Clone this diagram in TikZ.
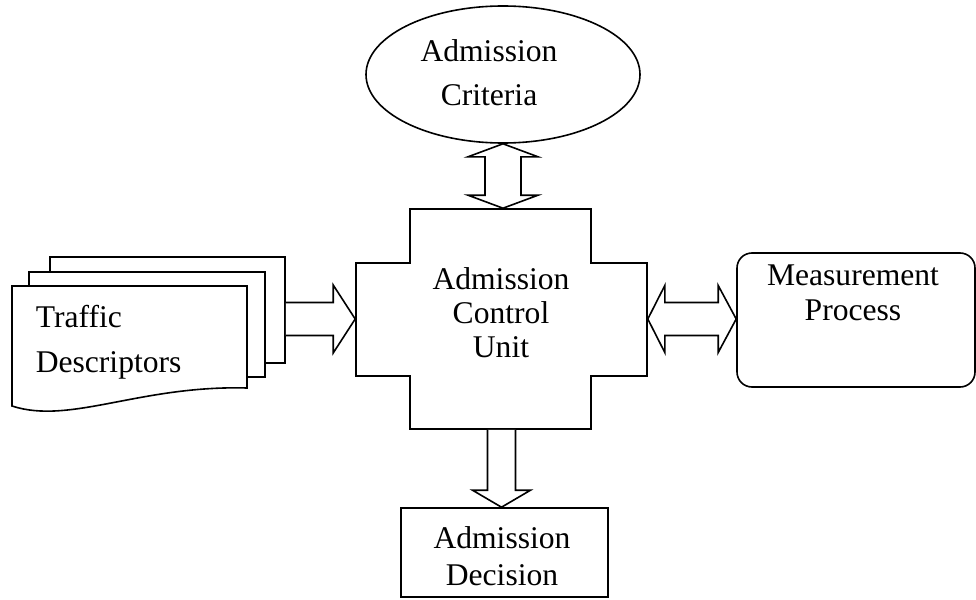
\documentclass[tikz,border=0pt]{standalone}
\usepackage{fontspec}
\setmainfont{Liberation Serif}
\usetikzlibrary{shapes.geometric,calc}
\begin{document}
\begin{tikzpicture}[x=1pt,y=-1pt,line width=1.6pt,line join=miter,
  shapebox/.style={draw,inner sep=0pt,fill=white},
  blockarrow/.style={draw,fill=white},
  lbl/.style={inner sep=0pt,align=center},
  txt/.style={font=\fontsize{31.6}{#1}\selectfont}]
\useasboundingbox (0,0) rectangle (976,599);

% admission criteria (ellipse)
\node[shapebox,ellipse,minimum width=274pt,minimum height=137pt] (crit) at (503,74.5) {};
\node[lbl,txt=44] (critText) at (489,73) {Admission\\Criteria};

% admission control unit (cross-shaped block)
\draw (410,209) -- (591,209) -- (591,263) -- (647,263) -- (647,376) -- (591,376)
  -- (591,429) -- (410,429) -- (410,376) -- (356,376) -- (356,263) -- (410,263) -- cycle;
\node[inner sep=0pt,minimum width=291pt,minimum height=220pt] (acu) at (501.5,319) {};
\node[lbl,txt=34] (acuText) at (501,313) {Admission\\Control\\Unit};

% traffic descriptors (stack of documents)
\node[shapebox,minimum width=235pt,minimum height=106pt] (back) at (167.5,310) {};
\node[shapebox,minimum width=236pt,minimum height=105pt] (mid) at (147,324.5) {};
\draw[fill=white] (12,286) -- (247,286) -- (247,388)
  .. controls (140,385) and (70,425) .. (12,406) -- cycle;
\node[lbl,txt=45,align=left,anchor=west] (trd) at (35,342) {Traffic\\Descriptors};

% measurement process
\node[shapebox,rounded corners=15pt,minimum width=238pt,minimum height=134pt] (meas) at (856,320) {};
\node[lbl,txt=35] (measText) at (853,293) {Measurement\\Process};

% admission decision
\node[shapebox,minimum width=207pt,minimum height=89pt] (dec) at (504.5,552.5) {};
\node[lbl,txt=37] (decText) at (502,556) {Admission\\Decision};

% criteria <-> control unit
\draw[blockarrow] (crit.south) -- ++(35,13) -- ++(-17,0)
  -- ($(crit.south |- acu.north)+(18,-13)$) -- ++(17,0) -- (crit.south |- acu.north)
  -- ++(-35,-13) -- ++(17,0) -- ($(crit.south)+(-18,13)$) -- ++(-17,0) -- cycle;

% descriptors -> control unit
\draw[blockarrow] ($(acu.west -| back.east)+(0,-16.5)$) -- ($(acu.west)+(-22,-16.5)$)
  -- ++(0,-17.5) -- (acu.west) -- ($(acu.west)+(-22,34)$) -- ++(0,-17.5)
  -- ($(acu.west -| back.east)+(0,16.5)$);

% control unit <-> measurement
\draw[blockarrow] (acu.east) -- ++(17,-33.5) -- ++(0,17)
  -- ($(meas.west |- acu.east)+(-18,-16.5)$) -- ++(0,-17) -- (meas.west |- acu.east)
  -- ++(-18,33.5) -- ++(0,-17) -- ($(acu.east)+(17,16.5)$) -- ++(0,17) -- cycle;

% control unit -> decision
\draw[blockarrow] ($(acu.south)+(-14,0)$) -- ($(acu.south |- dec.north)+(-14,-17)$)
  -- ++(-15,0) -- (acu.south |- dec.north) -- ++(29,-17) -- ++(-15,0)
  -- ($(acu.south)+(14,0)$);
\end{tikzpicture}
\end{document}
